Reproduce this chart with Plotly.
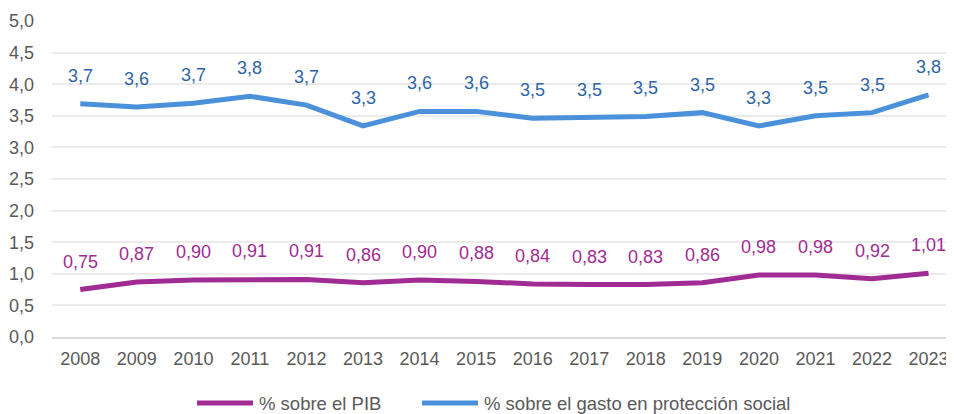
import plotly.graph_objects as go

years = ["2008","2009","2010","2011","2012","2013","2014","2015","2016","2017","2018","2019","2020","2021","2022","2023"]
pib = [0.75,0.87,0.90,0.91,0.91,0.86,0.90,0.88,0.84,0.83,0.83,0.86,0.98,0.98,0.92,1.01]
gasto = [3.69,3.64,3.70,3.81,3.67,3.34,3.57,3.57,3.46,3.47,3.49,3.55,3.34,3.50,3.55,3.83]
y_ticks = [0,0.5,1,1.5,2,2.5,3,3.5,4,4.5,5]
series_names = ["% sobre el PIB", "% sobre el gasto en protección social"]

purple = "#A02B93"
blue = "#4A90DA"
blue_txt = "#2E64A6"
grey_txt = "#595959"
font = "Liberation Sans, Arial, sans-serif"

# page body has an 8px margin, so the figure is 8px smaller than the window
OFF = 8
W, H = 954 - OFF, 414 - OFF
L, R, T, B = 52 - OFF, 0, 21 - OFF, 77
pw, ph = W - L - R, H - T - B

def px(x):
    return (x - OFF - L) / pw

def py(y):
    return (H - B - (y - OFF)) / ph

fig = go.Figure()
fig.add_trace(go.Scatter(x=years, y=pib, mode="lines", name=series_names[0],
                         line=dict(color=purple, width=5), showlegend=False))
fig.add_trace(go.Scatter(x=years, y=gasto, mode="lines", name=series_names[1],
                         line=dict(color=blue, width=5), showlegend=False))

for i, v in enumerate(pib):
    fig.add_annotation(x=i, y=v, xref="x", yref="y", text=f"{v:.2f}".replace(".", ","),
                       showarrow=False, yshift=28, font=dict(color=purple, size=18, family=font))
for i, v in enumerate(gasto):
    fig.add_annotation(x=i, y=v, xref="x", yref="y", text=f"{v:.1f}".replace(".", ","),
                       showarrow=False, yshift=28, font=dict(color=blue_txt, size=18, family=font))

# manual legend (screen pixel positions)
leg = [(197, 253, 257, purple, series_names[0]), (422, 478, 482, blue, series_names[1])]
for x0, x1, tx, c, name in leg:
    fig.add_shape(type="line", xref="paper", yref="paper", x0=px(x0), x1=px(x1),
                  y0=py(403), y1=py(403), line=dict(color=c, width=5))
    fig.add_annotation(xref="paper", yref="paper", x=px(tx), y=py(403), text=name,
                       showarrow=False, xanchor="left", yanchor="middle",
                       font=dict(color=grey_txt, size=18.5, family=font))

fig.update_layout(
    width=W, height=H,
    margin=dict(l=L, r=R, t=T, b=B),
    plot_bgcolor="white", paper_bgcolor="white",
    separators=",.",
    font=dict(family=font, size=18, color=grey_txt),
    showlegend=False,
    xaxis=dict(type="category", range=[-0.5, 15.45], showgrid=False, showline=True,
               linecolor="#D9D9D9", linewidth=1.5, ticks="", tickfont=dict(size=18, color=grey_txt),
               ticklabelstandoff=5, ticklabeloverflow="allow"),
    yaxis=dict(range=[0, 5], tickvals=y_ticks, tickformat=".1f", showgrid=True,
               gridcolor="#EBEBEB", gridwidth=1.5, zeroline=False, showline=False, ticks="",
               tickfont=dict(size=18, color=grey_txt), ticklabelstandoff=17),
)

fig.write_html("out.html")
